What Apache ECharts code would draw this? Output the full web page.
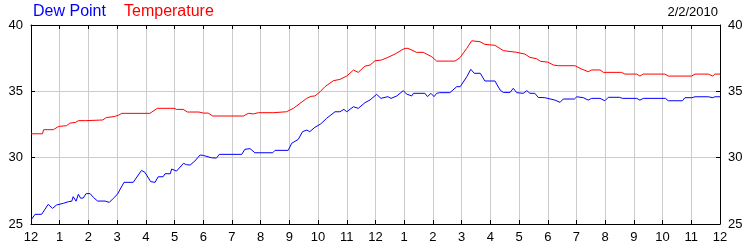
<!DOCTYPE html>
<html>
<head>
<meta charset="utf-8">
<script src="https://cdn.jsdelivr.net/npm/echarts@6/dist/echarts.min.js"></script>
<style>html,body{margin:0;padding:0;background:#fff;}#c{width:750px;height:250px;}</style>
</head>
<body>
<div id="c"></div>
<script>
var hourLabels = ['12','1','2','3','4','5','6','7','8','9','10','11','12','1','2','3','4','5','6','7','8','9','10','11','12'];
var yTicks = [25, 30, 35, 40];
var dateText = '2/2/2010';
var seriesNames = ['Dew Point', 'Temperature'];

var dewPoint = [
[0,25.30],[0.14,25.73],[0.37,25.73],[0.60,26.48],[0.75,26.18],[0.89,26.43],[1.13,26.56],[1.30,26.68],[1.42,26.72],[1.47,27.06],[1.57,26.72],[1.65,27.24],[1.73,26.94],[1.82,26.96],[1.92,27.29],[2.06,27.29],[2.18,26.99],[2.32,26.73],[2.58,26.73],[2.73,26.63],[2.87,26.94],[3.01,27.24],[3.24,28.14],[3.56,28.14],[3.85,29.04],[3.97,28.89],[4.17,28.19],[4.32,28.14],[4.43,28.56],[4.60,28.56],[4.67,28.79],[4.85,28.79],[4.90,29.14],[5.07,28.99],[5.31,29.57],[5.42,29.47],[5.54,29.44],[5.71,29.75],[5.89,30.20],[6.00,30.17],[6.29,29.99],[6.46,29.97],[6.56,30.25],[7.34,30.25],[7.45,30.63],[7.63,30.68],[7.80,30.37],[8.42,30.37],[8.50,30.55],[8.96,30.55],[9.08,31.08],[9.31,31.38],[9.46,31.96],[9.61,32.08],[9.71,31.96],[9.89,32.29],[10.09,32.54],[10.30,32.97],[10.59,33.46],[10.76,33.46],[10.90,33.64],[11.00,33.46],[11.23,33.84],[11.40,33.72],[11.63,34.14],[11.81,34.35],[12.04,34.77],[12.19,34.47],[12.43,34.60],[12.54,34.47],[12.74,34.65],[12.97,35.05],[13.08,34.80],[13.26,34.65],[13.32,34.85],[13.72,34.85],[13.81,34.60],[13.93,34.85],[14.04,34.60],[14.13,34.85],[14.24,34.90],[14.59,34.90],[14.83,35.35],[14.95,35.35],[15.18,36.10],[15.32,36.66],[15.44,36.36],[15.65,36.36],[15.81,35.78],[16.16,35.78],[16.34,35.10],[16.45,34.92],[16.69,34.92],[16.80,35.23],[16.92,34.90],[17.15,34.85],[17.27,35.05],[17.38,34.85],[17.55,34.85],[17.67,34.54],[17.90,34.52],[18.25,34.34],[18.43,34.17],[18.54,34.42],[18.93,34.42],[19.01,34.59],[19.24,34.52],[19.41,34.34],[19.53,34.47],[19.82,34.47],[19.99,34.29],[20.11,34.55],[20.50,34.55],[20.60,34.47],[21.10,34.47],[21.21,34.34],[21.33,34.47],[22.10,34.47],[22.20,34.29],[22.69,34.29],[22.78,34.52],[23.02,34.52],[23.13,34.59],[23.59,34.59],[23.75,34.52],[23.82,34.59],[24,34.59]
];

var temperature = [
[0,31.80],[0.40,31.80],[0.44,32.11],[0.78,32.11],[0.92,32.30],[0.99,32.36],[1.24,32.41],[1.35,32.60],[1.55,32.66],[1.65,32.79],[1.90,32.79],[1.95,32.84],[2.50,32.84],[2.62,33.02],[2.90,33.10],[3.05,33.20],[3.16,33.34],[4.14,33.34],[4.25,33.50],[4.40,33.72],[4.98,33.72],[5.07,33.64],[5.30,33.64],[5.45,33.44],[5.85,33.44],[6.00,33.36],[6.17,33.36],[6.33,33.14],[7.40,33.14],[7.57,33.34],[7.75,33.30],[7.92,33.39],[8.44,33.39],[8.50,33.46],[8.90,33.46],[9.14,33.72],[9.37,34.09],[9.60,34.47],[9.75,34.62],[9.89,34.65],[10.07,34.97],[10.24,35.35],[10.53,35.80],[10.76,35.90],[11.00,36.15],[11.23,36.60],[11.40,36.43],[11.63,36.90],[11.81,36.98],[11.98,37.30],[12.21,37.36],[12.43,37.56],[12.68,37.81],[12.91,38.11],[13.03,38.24],[13.13,38.24],[13.43,37.94],[13.66,37.94],[13.96,37.61],[14.13,37.28],[14.77,37.28],[14.94,37.53],[15.18,38.24],[15.35,38.81],[15.64,38.74],[15.81,38.54],[16.16,38.47],[16.45,38.07],[16.92,37.94],[17.20,37.81],[17.38,37.56],[17.61,37.46],[17.75,37.26],[18.00,37.20],[18.20,36.98],[18.37,36.93],[18.95,36.93],[19.18,36.68],[19.41,36.48],[19.53,36.61],[19.82,36.61],[19.94,36.43],[20.57,36.43],[20.69,36.30],[21.10,36.30],[21.21,36.15],[21.33,36.30],[22.08,36.30],[22.20,36.15],[23.01,36.15],[23.13,36.30],[23.59,36.30],[23.75,36.15],[23.82,36.30],[24,36.30]
];

var FONT = '"Liberation Sans", Arial, sans-serif';
var chart = echarts.init(document.getElementById('c'), null, {renderer: 'canvas'});

function xAxisCfg(pos, labels, split) {
  return {
    type: 'value', position: pos, min: 0, max: 24, interval: 1,
    axisLine: {show: true, onZero: false, lineStyle: {color: '#000', width: 1}},
    axisTick: {show: true, inside: true, length: 4, lineStyle: {color: '#000', width: 1}},
    axisLabel: {show: labels, color: '#000', fontSize: 13, fontFamily: FONT, margin: 7,
      showMinLabel: true, showMaxLabel: true,
      formatter: function (v) { return hourLabels[Math.round(v)]; }},
    splitLine: {show: split, lineStyle: {color: '#cccccc', width: 1}}
  };
}
function yAxisCfg(pos, split) {
  return {
    type: 'value', position: pos, min: yTicks[0], max: yTicks[yTicks.length - 1], interval: 5,
    axisLine: {show: true, onZero: false, lineStyle: {color: '#000', width: 1}},
    axisTick: {show: true, inside: true, length: 4, lineStyle: {color: '#000', width: 1}},
    axisLabel: {show: true, color: '#000', fontSize: 13, fontFamily: FONT, margin: 8,
      showMinLabel: true, showMaxLabel: true},
    splitLine: {show: split, lineStyle: {color: '#cccccc', width: 1}}
  };
}

chart.setOption({
  animation: false,
  backgroundColor: '#fff',
  grid: {left: 31, right: 30, top: 25, bottom: 26, containLabel: false},
  xAxis: [xAxisCfg('bottom', true, true), xAxisCfg('top', false, false)],
  yAxis: [yAxisCfg('left', true), yAxisCfg('right', false)],
  graphic: [
    {type: 'text', left: 33, top: 4, style: {text: seriesNames[0], fill: '#0000ff', font: '16px ' + FONT}},
    {type: 'text', left: 124, top: 4, style: {text: seriesNames[1], fill: '#ff0000', font: '16px ' + FONT}},
    {type: 'text', right: 32, top: 6, style: {text: dateText, fill: '#000', font: '13px ' + FONT}}
  ],
  series: [
    {name: seriesNames[0], type: 'line', xAxisIndex: 0, yAxisIndex: 0, data: dewPoint, showSymbol: false,
     lineStyle: {color: '#0000ff', width: 1}, itemStyle: {color: '#0000ff'}},
    {name: seriesNames[1], type: 'line', xAxisIndex: 0, yAxisIndex: 0, data: temperature, showSymbol: false,
     lineStyle: {color: '#ff0000', width: 1}, itemStyle: {color: '#ff0000'}}
  ]
});
</script>
</body>
</html>
